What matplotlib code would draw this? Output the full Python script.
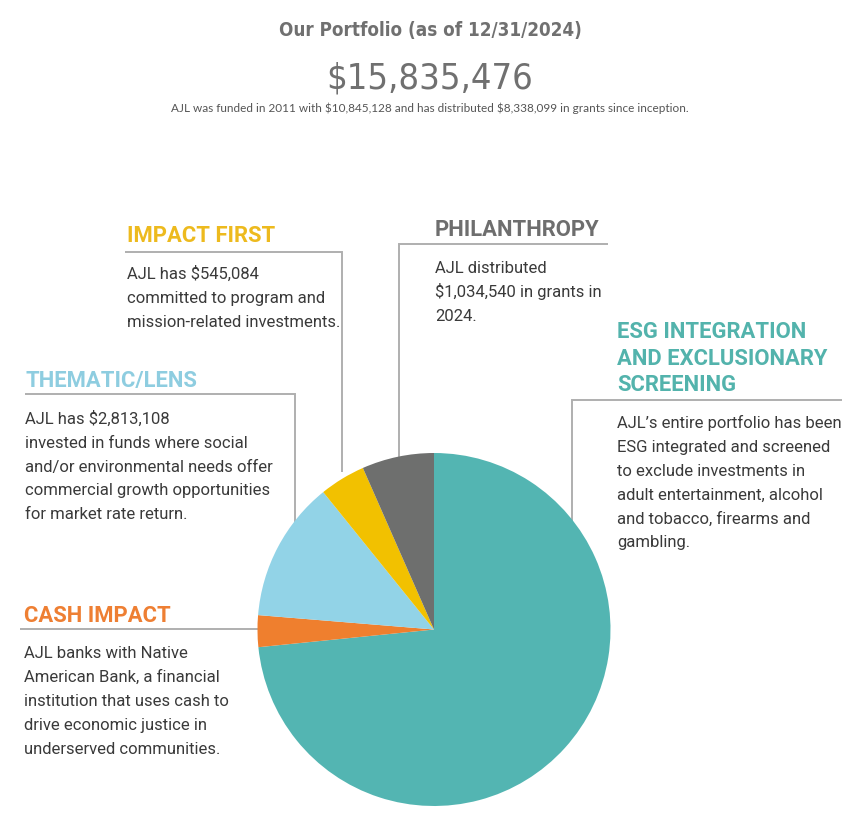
import matplotlib
matplotlib.use("Agg")
import matplotlib.pyplot as plt
from matplotlib import font_manager
from matplotlib.font_manager import FontProperties

# ---------------- data ----------------
categories = ["ESG Integration and Exclusionary Screening", "Cash Impact",
              "Thematic/Lens", "Impact First", "Philanthropy"]
shares = [73.4, 2.9, 12.9, 4.2, 6.6]          # % of pie
slice_colors = ["#53B5B2", "#EF7F2E", "#92D3E7", "#F2C100", "#6E6F6E"]

title = "Our Portfolio (as of 12/31/2024)"
total_label = "$15,835,476"
subtitle = ("AJL was funded in 2011 with $10,845,128 and has distributed "
            "$8,338,099 in grants since inception.")

headings = {
    "impact": ("IMPACT FIRST", "#EDBA1E"),
    "thematic": ("THEMATIC/LENS", "#8ECDE0"),
    "phil": ("PHILANTHROPY", "#6E6E6E"),
    "esg": ("ESG INTEGRATION\nAND EXCLUSIONARY\nSCREENING", "#53B3AC"),
    "cash": ("CASH IMPACT", "#EE7F33"),
}
bodies = {
    "impact": ["AJL has $545,084", "committed to program and",
               "mission-related investments."],
    "thematic": ["AJL has $2,813,108", "invested in funds where social",
                 "and/or environmental needs offer",
                 "commercial growth opportunities", "for market rate return."],
    "phil": ["AJL distributed", "$1,034,540 in grants in", "2024."],
    "esg": ["AJL\u2019s entire portfolio has been", "ESG integrated and screened",
            "to exclude investments in", "adult entertainment, alcohol",
            "and tobacco, firearms and", "gambling."],
    "cash": ["AJL banks with Native", "American Bank, a financial",
             "institution that uses cash to", "drive economic justice in",
             "underserved communities."],
}

# ---------------- fonts ----------------
ttf = font_manager.fontManager.ttflist
names = {f.name for f in ttf}
body_font = "Roboto" if "Roboto" in names else "DejaVu Sans"
sub_font = "Lato" if "Lato" in names else "DejaVu Sans"


def find_narrow(bold):
    cands = []
    for f in ttf:
        st = str(f.stretch).lower()
        nm = f.name.lower()
        narrowish = ("condensed" in st or "narrow" in nm or "condensed" in nm
                     or st in ("semi-condensed", "extra-condensed"))
        if not narrowish or str(f.style) != "normal":
            continue
        w = f.weight if isinstance(f.weight, int) else (700 if "bold" in str(f.weight) else 400)
        cands.append((abs(w - (700 if bold else 400)), f.fname))
    if cands:
        cands.sort()
        return FontProperties(fname=cands[0][1])
    return None


narrow_bold = find_narrow(True)
narrow_reg = find_narrow(False)
found_narrow = narrow_reg is not None

W, H = 868, 823
fig = plt.figure(figsize=(W / 100, H / 100), dpi=100)
fig.patch.set_facecolor("white")

ax0 = fig.add_axes([0, 0, 1, 1])
ax0.set_xlim(0, W)
ax0.set_ylim(H, 0)
ax0.axis("off")
ax0.patch.set_alpha(0)

title_col = "#707070"
if found_narrow:
    tp = narrow_bold.copy(); tp.set_size(13.5)
    np_ = narrow_reg.copy(); np_.set_size(26)
    ax0.text(430, 36, title, ha="center", va="baseline", fontproperties=tp,
             color=title_col, parse_math=False)
    ax0.text(430, 88, total_label, ha="center", va="baseline",
             fontproperties=np_, color=title_col, parse_math=False)
else:
    ax0.text(430, 36, title, ha="center", va="baseline", fontsize=12,
             fontweight="bold", family="DejaVu Sans", color=title_col,
             parse_math=False)
    ax0.text(430, 88, total_label, ha="center", va="baseline", fontsize=23,
             family="DejaVu Sans", color=title_col, parse_math=False)
ax0.text(430, 111.5, subtitle, ha="center", va="baseline", fontsize=8.5,
         family=sub_font, color="#555555", parse_math=False)

line_col = "#AFAFAF"
lw = 1.4


def connector(pts):
    xs, ys = zip(*pts)
    ax0.plot(xs, ys, color=line_col, lw=lw, solid_capstyle="butt",
             solid_joinstyle="miter", zorder=1)


connector([(125, 251.7), (342, 251.7), (342, 472)])
connector([(25, 394), (295, 394), (295, 522)])
connector([(608, 244), (399, 244), (399, 462)])
connector([(842, 400), (572, 400), (572, 524)])
connector([(20, 629), (264, 629)])

head_fs = 15.8
body_fs = 12.0
body_col = "#3A3A3A"
spacing = 23.8


def block(key, x, head_baselines, body_first):
    text, col = headings[key]
    for i, ln in enumerate(text.split("\n")):
        ax0.text(x, head_baselines[i], ln, ha="left", va="baseline",
                 fontsize=head_fs, fontweight="bold", family=body_font,
                 color=col, parse_math=False)
    for i, ln in enumerate(bodies[key]):
        ax0.text(x, body_first + i * spacing, ln, ha="left", va="baseline",
                 fontsize=body_fs, family=body_font, color=body_col,
                 parse_math=False)


block("impact", 127, [242], 279)
block("thematic", 25, [386.5], 424)
block("phil", 435, [236], 273.3)
block("esg", 617, [338.3, 364.8, 391.2], 428.3)
block("cash", 24, [621.7], 658.3)

# pie axes: centre (434, 629.5), radius 176.5 px
cx, cy, r = 434, 629.5, 176.5
ax = fig.add_axes([(cx - r) / W, (H - cy - r) / H, 2 * r / W, 2 * r / H])
ax.pie(shares, colors=slice_colors, startangle=90, counterclock=False,
       radius=1, wedgeprops=dict(linewidth=0))
ax.set_xlim(-1, 1)
ax.set_ylim(-1, 1)
ax.axis("off")

fig.savefig("out.png", dpi=100, facecolor="white")
